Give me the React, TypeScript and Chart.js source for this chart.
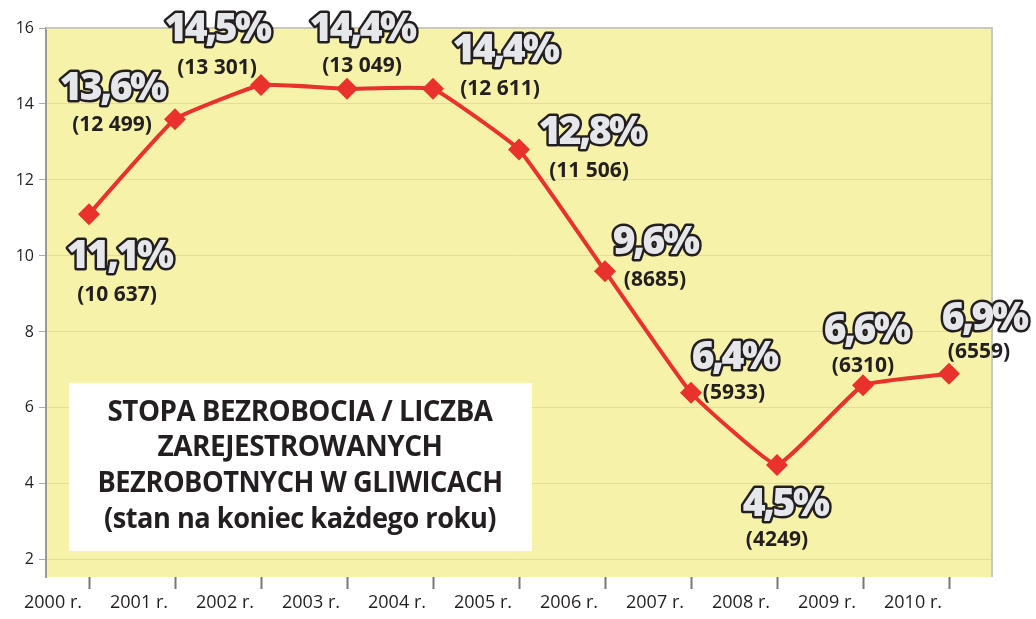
import React, { useEffect, useRef } from "react";
import { Chart, registerables } from "chart.js";

Chart.register(...registerables);

const years = ["2000 r.", "2001 r.", "2002 r.", "2003 r.", "2004 r.", "2005 r.", "2006 r.", "2007 r.", "2008 r.", "2009 r.", "2010 r."];
const rates = [11.1, 13.6, 14.5, 14.4, 14.4, 12.8, 9.6, 6.4, 4.5, 6.6, 6.9];
const rateLabels = ["11,1%", "13,6%", "14,5%", "14,4%", "14,4%", "12,8%", "9,6%", "6,4%", "4,5%", "6,6%", "6,9%"];
const countLabels = ["(10 637)", "(12 499)", "(13 301)", "(13 049)", "(12 611)", "(11 506)", "(8685)", "(5933)", "(4249)", "(6310)", "(6559)"];
const yTicks = [2, 4, 6, 8, 10, 12, 14, 16];
const titleLines = ["STOPA BEZROBOCIA / LICZBA", "ZAREJESTROWANYCH", "BEZROBOTNYCH W GLIWICACH", "(stan na koniec każdego roku)"];

// label offsets relative to each point: [dxPct, dyPct, dxCount, dyCount]
const labelOffsets = [
  [30, 43, 28, 81],
  [-63, -30, -63, 6],
  [-44, -55, -44, -17],
  [15, -59, 15, -23],
  [72, -38, 67, 0],
  [72, -17, 70, 21],
  [50, -28, 50, 9],
  [43, -35, 43, 0],
  [8, 40, 0, 75],
  [3, -54, 0, -19],
  [35, -55, 30, -22],
];

const FONT = "'Open Sans', 'DejaVu Sans', sans-serif";

const decorPlugin = {
  id: "decor",
  beforeDraw(chart: any) {
    const { ctx, chartArea: a } = chart;
    ctx.save();
    ctx.fillStyle = "#f6f2a9";
    ctx.fillRect(a.left, a.top, a.right - a.left, a.bottom - a.top);
    ctx.restore();
  },
  beforeDatasetsDraw(chart: any) {
    const { ctx, chartArea: a } = chart;
    ctx.save();
    ctx.strokeStyle = "#c8c8c0";
    ctx.lineWidth = 2;
    ctx.beginPath();
    ctx.moveTo(a.left, a.top);
    ctx.lineTo(a.right, a.top);
    ctx.lineTo(a.right, a.bottom);
    ctx.stroke();
    // title box
    ctx.fillStyle = "#ffffff";
    ctx.fillRect(69, 383, 463, 168);
    ctx.fillStyle = "#231f20";
    ctx.textAlign = "center";
    ctx.textBaseline = "middle";
    ctx.font = `bold 28px ${FONT}`;
    (ctx as any).letterSpacing = "-0.5px";
    const ys = [413, 448, 484, 520];
    const widths = [385, 286, 405, 392];
    titleLines.forEach((t, i) => {
      ctx.fillText(t, 300, ys[i], widths[i]);
    });
    ctx.restore();
  },
  afterDatasetsDraw(chart: any) {
    const { ctx } = chart;
    const meta = chart.getDatasetMeta(0);
    ctx.save();
    ctx.textAlign = "center";
    ctx.textBaseline = "middle";
    meta.data.forEach((pt: any, i: number) => {
      const [dx1, dy1, dx2, dy2] = labelOffsets[i];
      ctx.font = `800 39px ${FONT}`;
      ctx.lineJoin = "round";
      ctx.lineWidth = 5;
      ctx.strokeStyle = "#231f20";
      const x1 = pt.x + dx1, y1 = pt.y + dy1;
      (ctx as any).letterSpacing = "-2.5px";
      ctx.strokeText(rateLabels[i], x1, y1);
      ctx.fillStyle = "#e6e7ea";
      ctx.fillText(rateLabels[i], x1, y1);
      (ctx as any).letterSpacing = "0px";
      ctx.font = `bold 21px ${FONT}`;
      ctx.fillStyle = "#231f20";
      ctx.fillText(countLabels[i], pt.x + dx2, pt.y + dy2);
    });
    ctx.restore();
  },
};

export default function App() {
  const ref = useRef<HTMLCanvasElement | null>(null);
  useEffect(() => {
    document.body.style.margin = "0";
    const chart = new Chart(ref.current as HTMLCanvasElement, {
      type: "line",
      data: {
        labels: years,
        datasets: [
          {
            data: rates,
            borderColor: "#e8322b",
            backgroundColor: "#e8322b",
            borderWidth: 4,
            pointStyle: "rectRot",
            pointRadius: 11,
            pointBorderWidth: 0,
            tension: 0.1,
          },
        ],
      },
      options: {
        responsive: false,
        animation: false,
        layout: { padding: { top: 28, right: 44, left: 0, bottom: 0 } },
        plugins: { legend: { display: false }, tooltip: { enabled: false } },
        scales: {
          x: {
            type: "category",
            offset: true,
            grid: { drawOnChartArea: false, drawTicks: true, tickLength: 12, tickColor: "#777", tickWidth: 2, offset: false },
            border: { display: false },
            ticks: { labelOffset: -36, padding: 3, color: "#231f20", font: { family: FONT, size: 18 }, maxRotation: 0, autoSkip: false },
            afterFit: (s: any) => { s.height = 42; },
          },
          y: {
            min: 1.55,
            max: 16,
            afterBuildTicks: (s: any) => { s.ticks = yTicks.map((v) => ({ value: v })); },
            grid: { color: "#e4dc98", lineWidth: 1, tickLength: 7, tickColor: "#aaa" },
            border: { color: "#999", width: 2 },
            ticks: { padding: 5, color: "#231f20", font: { family: FONT, size: 16 }, callback: (v: any) => String(v) },
            afterFit: (s: any) => { s.width = 46; },
          },
        },
      },
      plugins: [decorPlugin],
    });
    return () => chart.destroy();
  }, []);
  return (
    <div style={{ position: "absolute", left: 0, top: 0, width: 1036, height: 619, background: "#fff" }}>
      <canvas ref={ref} width={1036} height={619} style={{ width: 1036, height: 619 }} />
    </div>
  );
}
